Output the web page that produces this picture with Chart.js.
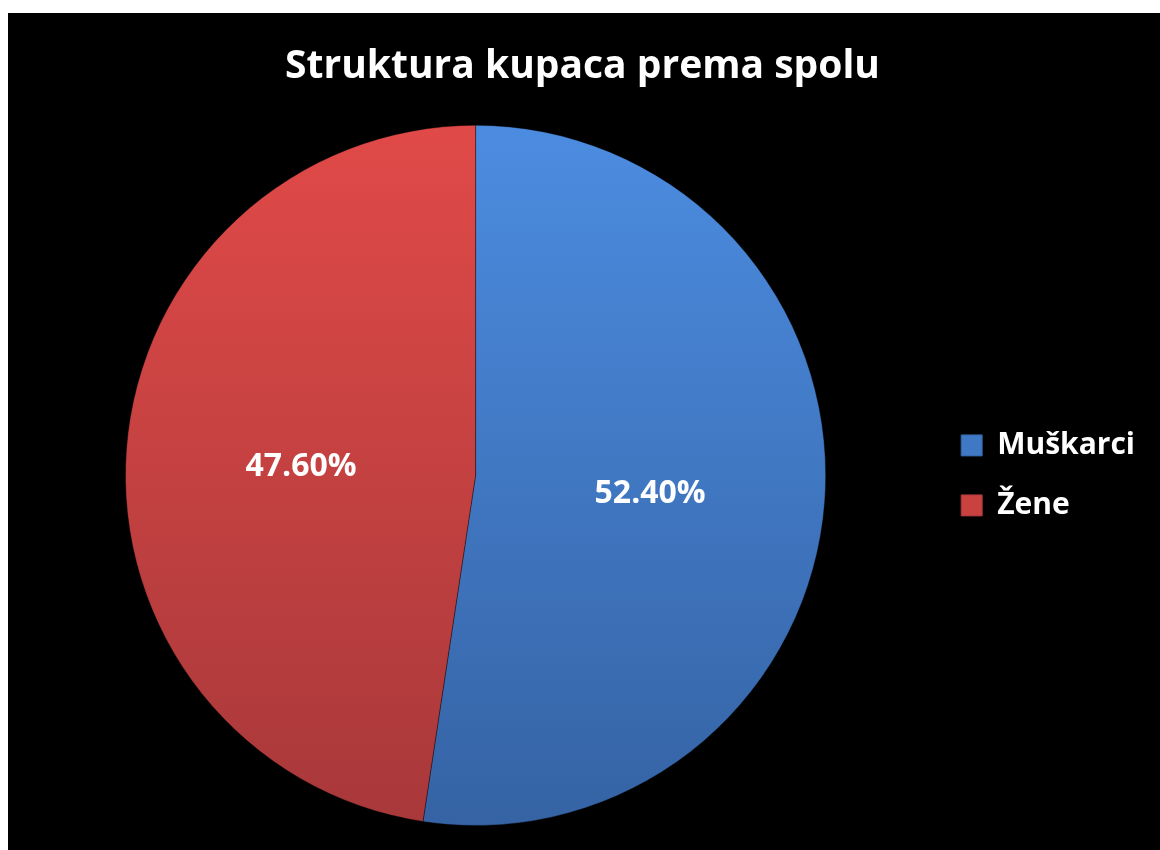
<!DOCTYPE html>
<html lang="hr">
<head>
<meta charset="utf-8">
<title>Struktura kupaca prema spolu</title>
<script src="https://cdn.jsdelivr.net/npm/chart.js@4.4.1/dist/chart.umd.min.js"></script>
<style>
  html, body { margin: 0; padding: 0; background: #ffffff; }
  #chartBox {
    position: absolute;
    left: 8px;
    top: 13px;
    width: 1152px;
    height: 837px;
    background: #000000;
  }
</style>
</head>
<body>
<div id="chartBox"><canvas id="genderChart"></canvas></div>
<script>
const TITLE = "Struktura kupaca prema spolu";
const LABELS = ["Muškarci", "Žene"];
const VALUES = [52.4, 47.6];
const TOP_COLORS = ["#4c8ce0", "#e04a48"];
const BOTTOM_COLORS = ["#3563a4", "#a8383a"];
const FLAT_COLORS = ["#3f79c6", "#c94240"];

const FONT = '"Open Sans", "Noto Sans", sans-serif';

function fmtPct(value) {
  return `${Number(value).toFixed(2)}%`;
}

function sliceFill(context) {
  const chart = context.chart;
  const area = chart.chartArea;
  const i = context.dataIndex;
  if (!area) return FLAT_COLORS[i];
  const grad = chart.ctx.createLinearGradient(0, area.top, 0, area.bottom);
  grad.addColorStop(0, TOP_COLORS[i]);
  grad.addColorStop(1, BOTTOM_COLORS[i]);
  return grad;
}

// value labels in the middle of each slice
const sliceLabels = {
  id: "sliceLabels",
  afterDatasetsDraw(chart) {
    const { ctx } = chart;
    const meta = chart.getDatasetMeta(0);
    ctx.save();
    ctx.fillStyle = "#ffffff";
    ctx.font = `bold 32px ${FONT}`;
    ctx.textAlign = "center";
    ctx.textBaseline = "middle";
    meta.data.forEach((arc, index) => {
      const pos = arc.tooltipPosition();
      ctx.fillText(fmtPct(VALUES[index]), pos.x, pos.y + 5);
    });
    ctx.restore();
  }
};

new Chart(document.getElementById("genderChart"), {
  type: "pie",
  data: {
    labels: LABELS,
    datasets: [
      {
        data: VALUES,
        backgroundColor: sliceFill,
        borderColor: "rgba(0, 0, 0, 0.35)",
        borderWidth: 1
      }
    ]
  },
  options: {
    responsive: true,
    maintainAspectRatio: false,
    animation: false,
    layout: {
      padding: { left: 12, right: 15, top: 0, bottom: 24 }
    },
    plugins: {
      title: {
        display: true,
        text: TITLE,
        color: "#ffffff",
        font: { family: FONT, size: 39, weight: "bold", lineHeight: 1.2 },
        padding: { top: 30, bottom: 35 }
      },
      legend: {
        position: "right",
        fullSize: false,
        labels: {
          color: "#ffffff",
          font: { family: FONT, size: 30, weight: "bold" },
          boxWidth: 21,
          boxHeight: 21,
          padding: 30,
          generateLabels(chart) {
            const items = Chart.overrides.pie.plugins.legend.labels.generateLabels(chart);
            return items.map((item, index) => ({
              ...item,
              fillStyle: FLAT_COLORS[index],
              strokeStyle: BOTTOM_COLORS[index],
              lineWidth: 1
            }));
          }
        }
      },
      tooltip: { enabled: false }
    }
  },
  plugins: [sliceLabels]
});
</script>
</body>
</html>
